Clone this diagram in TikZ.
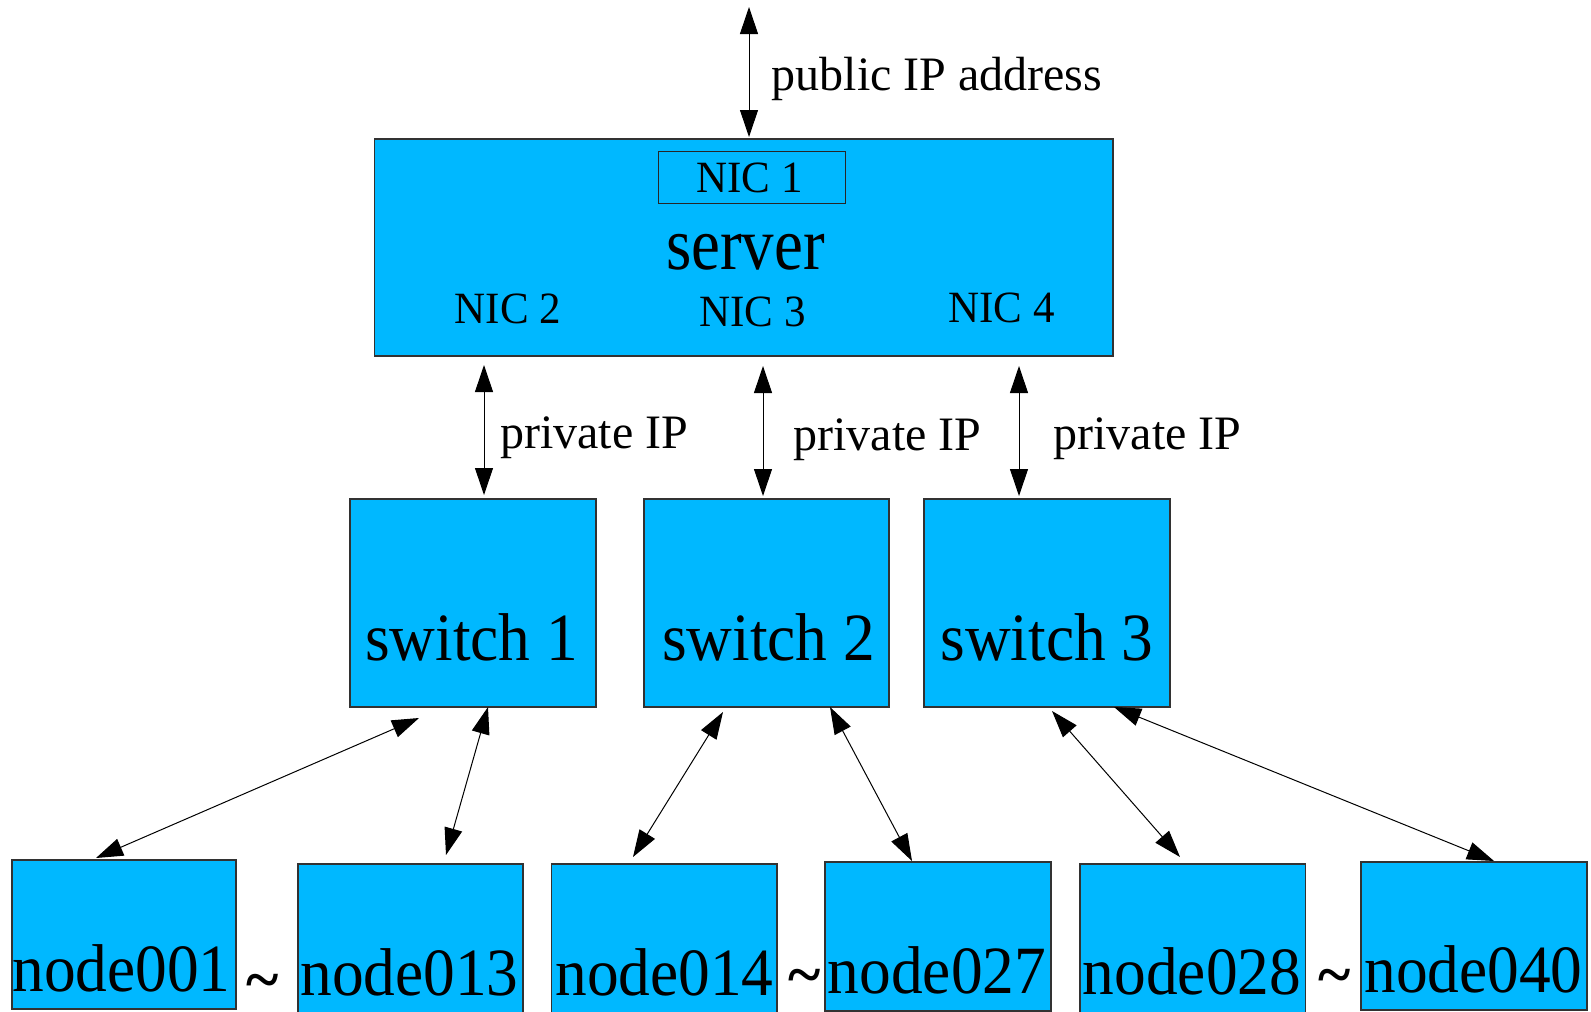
\documentclass[tikz,border=0pt]{standalone}
\usepackage{fontspec}
\usepackage{graphicx}
\setmainfont{Liberation Serif}
\usetikzlibrary{arrows.meta}

\definecolor{boxblue}{RGB}{0,184,255}
\definecolor{edgegray}{RGB}{50,50,50}

% text of a given size (in pt), optionally stretched vertically
\newcommand\boxtext[3][1]{\scalebox{1}[#1]{\fontsize{#2}{#2}\selectfont #3}}
% large box labels, set slightly narrow and tall
\newcommand\bigtext[1]{\scalebox{0.975}[1.04]{\fontsize{65}{65}\selectfont #1}}

\begin{document}
\begin{tikzpicture}[x=1pt,y=-1pt,
  box/.style={draw=edgegray, line width=1.2pt, fill=boxblue, inner sep=0pt, outer sep=0pt},
  nicbox/.style={draw=black!85, line width=1pt, inner sep=0pt, outer sep=0pt},
  lbl/.style={inner sep=0pt, outer sep=0pt, anchor=base, text=black},
  link/.style={line width=1pt, draw=black,
    {Triangle[length=27pt,width=18pt]}-{Triangle[length=27pt,width=18pt]}},
]
\useasboundingbox (0,0) rectangle (1591,1012);

% server with its four network cards
\node[box, minimum width=738.7pt, minimum height=217pt] (server) at (743.65,247.5) {};
\node[nicbox, minimum width=187pt, minimum height=52pt] (nic1box) at (751.5,177) {};
\node[lbl] (nic1) at (749.5,192) {\boxtext[1.04]{43}{NIC 1}};
\node[lbl] (srv) at (745.5,269) {\boxtext[1.15]{65}{server}};
\node[lbl] (nic2) at (508,323) {\boxtext[1.04]{43}{NIC 2}};
\node[lbl] (nic3) at (752.5,326) {\boxtext[1.04]{43}{NIC 3}};
\node[lbl] (nic4) at (1001.5,322) {\boxtext[1.04]{43}{NIC 4}};

% uplink
\coordinate (net) at (749,7);
\draw[link] (net) -- ([shift={(5.35,-2)}]server.north);
\node[lbl] (pub) at (937,90) {\boxtext{48}{public IP address}};

% switches
\node[box, minimum width=246pt, minimum height=208pt] (s1) at (473,603) {};
\node[box, minimum width=245pt, minimum height=208pt] (s2) at (766.5,603) {};
\node[box, minimum width=246pt, minimum height=208pt] (s3) at (1047,603) {};
\node[lbl] (s1t) at (471.5,660) {\bigtext{switch 1}};
\node[lbl] (s2t) at (768.5,660) {\bigtext{switch 2}};
\node[lbl] (s3t) at (1047,660) {\bigtext{switch 3}};

% server to switches
\draw[link] ([shift={(-259.65,9)}]server.south) -- ([shift={(11,-4)}]s1.north);
\draw[link] ([shift={(19.35,10)}]server.south) -- ([shift={(-3.5,-3)}]s2.north);
\draw[link] ([shift={(275.35,10)}]server.south) -- ([shift={(-28,-3)}]s3.north);
\node[lbl] (p1) at (594,448) {\boxtext{48}{private IP}};
\node[lbl] (p2) at (887.5,450) {\boxtext{48}{private IP}};
\node[lbl] (p3) at (1147.5,449) {\boxtext{48}{private IP}};

% compute nodes
\node[box, minimum width=224pt, minimum height=149pt] (n001) at (124,934.5) {};
\node[box, minimum width=225pt, minimum height=149pt] (n013) at (410.5,938.5) {};
\node[box, minimum width=225.5pt, minimum height=149pt] (n014) at (664.25,938.5) {};
\node[box, minimum width=226pt, minimum height=149pt] (n027) at (938,936.5) {};
\node[box, minimum width=225.5pt, minimum height=149pt] (n028) at (1192.75,938.5) {};
\node[box, minimum width=226pt, minimum height=148pt] (n040) at (1474,936) {};

\node[lbl] (t001) at (121.5,991) {\bigtext{node001}};
\node[lbl] (t013) at (409.5,995) {\bigtext{node013}};
\node[lbl] (t014) at (664.5,995) {\bigtext{node014}};
\node[lbl] (t027) at (937,993) {\bigtext{node027}};
\node[lbl] (t028) at (1192,994) {\bigtext{node028}};
\node[lbl] (t040) at (1473.5,992) {\bigtext{node040}};

% range marks between first and last node of each switch
\node[lbl] (r1) at (263,1000) {\boxtext{62}{\bfseries\textasciitilde}};
\node[lbl] (r2) at (805,995) {\boxtext{62}{\bfseries\textasciitilde}};
\node[lbl] (r3) at (1335,995) {\boxtext{62}{\bfseries\textasciitilde}};

% switches to compute nodes
\draw[link] ([shift={(-54,11)}]s1.south) -- ([shift={(-28,-2)}]n001.north);
\draw[link] ([shift={(15,0)}]s1.south) -- ([shift={(35.5,-9)}]n013.north);
\draw[link] ([shift={(-43.5,5)}]s2.south) -- ([shift={(-31.25,-7)}]n014.north);
\draw[link] ([shift={(63.5,0)}]s2.south) -- ([shift={(-26,-1)}]n027.north);
\draw[link] ([shift={(5,4)}]s3.south) -- ([shift={(-12.75,-7)}]n028.north);
\draw[link] ([shift={(67,0)}]s3.south) -- ([shift={(20,-1)}]n040.north);
\end{tikzpicture}
\end{document}
